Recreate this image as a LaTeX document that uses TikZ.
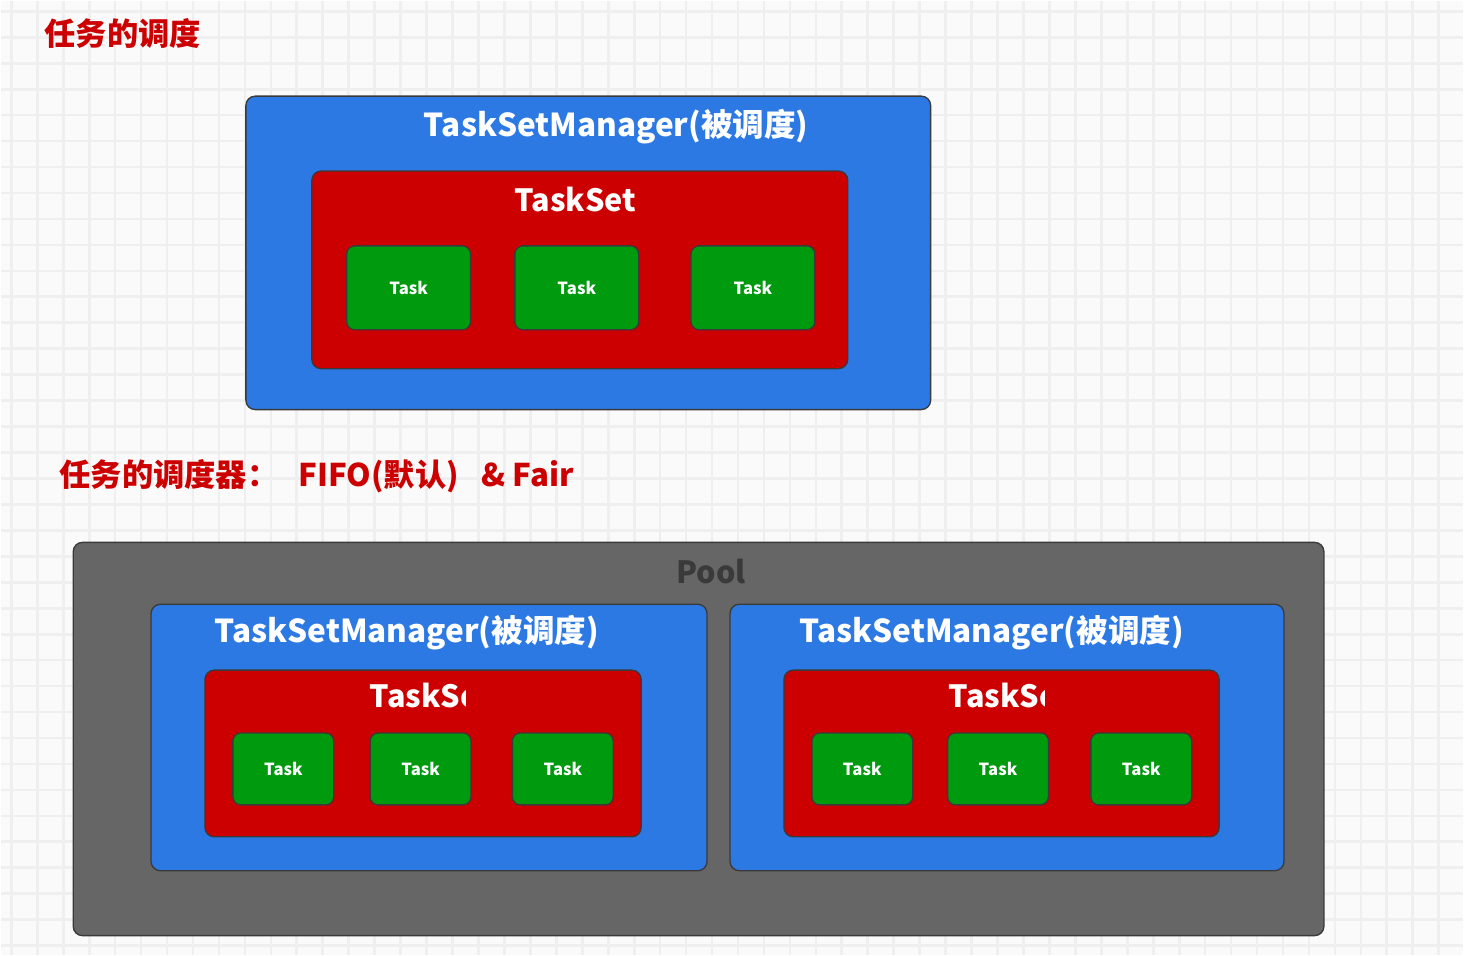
\documentclass[tikz,border=0pt]{standalone}
\usepackage{fontspec}
\setmainfont{Noto Sans CJK SC}
\usepackage{tikz}
\usetikzlibrary{positioning}

\definecolor{bgcol}{HTML}{FAFAFA}
\definecolor{gridcol}{HTML}{EFEFEF}
\definecolor{tsmblue}{HTML}{2D79E3}
\definecolor{setred}{HTML}{CC0000}
\definecolor{taskgreen}{HTML}{009A0F}
\definecolor{poolgrey}{HTML}{666666}
\definecolor{edgecol}{HTML}{3A3A3A}

\tikzset{
  gridline/.style={gridcol, line width=2pt},
  box/.style={draw=edgecol, line width=1pt, rounded corners=7pt, inner sep=0pt},
  poolbox/.style={box, fill=poolgrey},
  tsmbox/.style={box, fill=tsmblue},
  setbox/.style={box, fill=setred},
  taskbox/.style={box, fill=taskgreen, rounded corners=6pt,
    font=\bfseries\fontsize{12.5}{14}\selectfont, text=white},
  boxtitle/.style={font=\bfseries\fontsize{23}{26}\selectfont, text=white, inner sep=0pt},
  tsmtitle/.style={boxtitle, font=\bfseries\fontsize{23.7}{26}\selectfont},
  heading/.style={font=\bfseries\fontsize{23.5}{26}\selectfont, text=setred, inner sep=0pt, anchor=west},
}

\begin{document}
\begin{tikzpicture}[x=0.75pt, y=-0.75pt]
      % background grid
      \fill[bgcol] (0, 0) rectangle (1464, 955);
      \foreach \gx in {10, 36, ..., 1464}
        \draw[gridline] (\gx, 0) -- (\gx, 955);
      \foreach \gy in {10, 36, ..., 955}
        \draw[gridline] (0, \gy) -- (1464, \gy);
      \useasboundingbox (0, 0) rectangle (1464, 955);

      % first part
      \node [heading] (head1) at (43, 32) {任务的调度};

      \node [tsmbox, minimum width=514.5pt, minimum height=235.5pt] (tsm) at (588, 252) {};
      \node [tsmtitle] (tsmtitle) at (616, 126) {TaskSetManager(被调度)};
      \node [setbox, minimum width=402.75pt, minimum height=148.5pt] (set) at (579.5, 269) {};
      \node [boxtitle] (settitle) at (575, 199) {TaskSet};
      \node [taskbox, minimum width=93pt, minimum height=63pt] (t1) at (408, 287) {Task};
      \node [taskbox, minimum width=93pt, minimum height=63pt] (t2) at (576.5, 287) {Task};
      \node [taskbox, minimum width=93pt, minimum height=63pt] (t3) at (753, 287) {Task};

      % second part
      \node [heading] (head2) at (58, 476) {任务的调度器：\hspace{15pt}FIFO(默认)\hspace{17pt}\& Fair};

      \node [poolbox, minimum width=939.75pt, minimum height=295.5pt] (pool) at (698.5, 739) {};
      \node [boxtitle, text=edgecol] (pooltitle) at (711, 571) {Pool};

      % left manager
      \node [tsmbox, minimum width=417.75pt, minimum height=200.25pt] (tsmL) at (428.5, 737.5) {};
      \node [tsmtitle] (tsmLtitle) at (406, 632) {TaskSetManager(被调度)};
      \node [setbox, minimum width=327.75pt, minimum height=125.25pt] (setL) at (422.5, 753.5) {};
      \begin{scope}
        \clip (369, 670) rectangle (465, 720);
        \node [boxtitle, anchor=west] (setLtitle) at (369, 695) {TaskSet};
      \end{scope}
      \foreach \tx/\tn in {282.5/a, 420/b, 562.5/c}
        \node [taskbox, minimum width=75.75pt, minimum height=54pt] (tL\tn) at (\tx, 769) {Task};

      % right manager
      \node [tsmbox, minimum width=416.25pt, minimum height=200.25pt] (tsmR) at (1007.5, 737.5) {};
      \node [tsmtitle] (tsmRtitle) at (992, 632) {TaskSetManager(被调度)};
      \node [setbox, minimum width=327pt, minimum height=125.25pt] (setR) at (1002, 753.5) {};
      \begin{scope}
        \clip (949, 670) rectangle (1045, 720);
        \node [boxtitle, anchor=west] (setRtitle) at (949, 695) {TaskSet};
      \end{scope}
      \foreach \tx/\tn in {862.5/a, 998.5/b, 1142/c}
        \node [taskbox, minimum width=75.75pt, minimum height=54pt] (tR\tn) at (\tx, 769) {Task};
\end{tikzpicture}
\end{document}
